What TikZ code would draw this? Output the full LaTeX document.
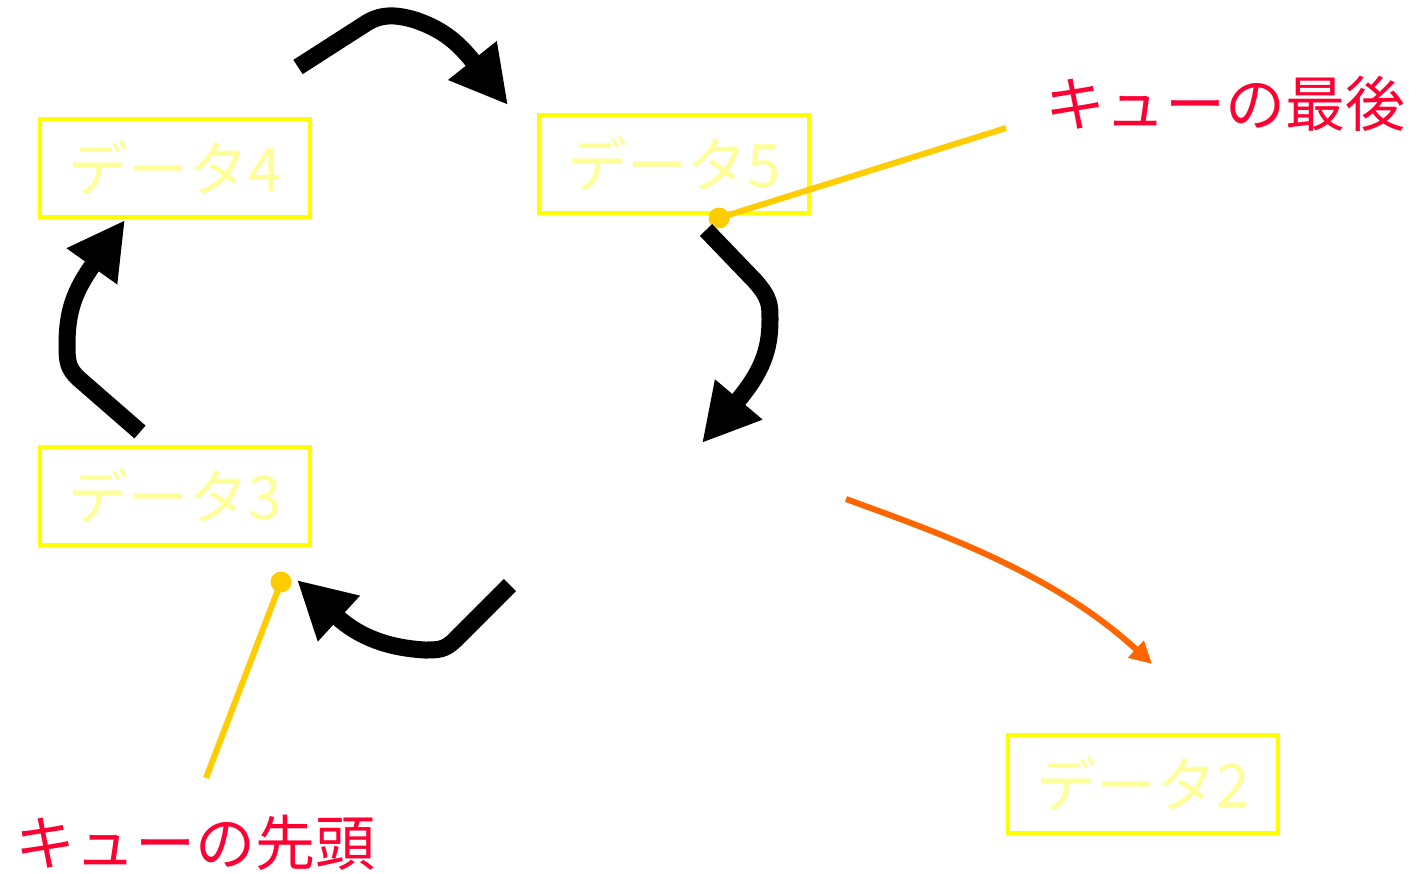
\documentclass[tikz,border=0pt]{standalone}
\usepackage{fontspec}
\newfontfamily\jpfont{Noto Sans CJK JP}
\usetikzlibrary{arrows.meta}
\definecolor{boxyellow}{HTML}{FFFF00}
\definecolor{textyellow}{HTML}{FFFF99}
\definecolor{labelred}{HTML}{FF0033}
\definecolor{pointgold}{HTML}{FFCC00}
\definecolor{moveorange}{HTML}{FF6600}

\begin{document}
\begin{tikzpicture}[x=1pt,y=-1pt,
	data/.style={draw=boxyellow,line width=4.5pt,minimum width=270pt,minimum height=98pt,inner sep=0pt,text=textyellow,font=\jpfont\fontsize{60}{60}\selectfont},
	tag/.style={text=labelred,inner sep=0pt,font=\jpfont\fontsize{60}{60}\selectfont},
	dot/.style={circle,fill=pointgold,inner sep=0pt,minimum size=21pt},
	turn/.style={line width=17pt,-{Triangle[length=57pt,width=58pt]}},
	pointer/.style={draw=pointgold,line width=6pt},
	move/.style={draw=moveorange,line width=6pt,-{Triangle[length=22pt,width=22pt]}}]

	\useasboundingbox (0,0) rectangle (1426,873);

	\node[data] (d4) at (175,168) {データ4};
	\node[data] (d5) at (674,164) {データ5};
	\node[data] (d3) at (175,496) {データ3};
	\node[data] (d2) at (1143,784) {データ2};

	\node[tag] (last) at (1225,104) {キューの最後};
	\node[tag] (head) at (195,843) {キューの先頭};

	\node[dot] (p5) at (719,218) {};
	\node[dot] (p3) at (281,582) {};
	\coordinate (lastend) at (1006,128);
	\coordinate (headend) at (206,778);

	\coordinate (t1s) at (298,67);  \coordinate (t1e) at (508,105);
	\coordinate (t2s) at (706,230); \coordinate (t2e) at (702,443);
	\coordinate (t3s) at (510,585); \coordinate (t3e) at (297,580);
	\coordinate (t4s) at (140,432); \coordinate (t4e) at (125,220);
	\coordinate (o1) at (846,499);  \coordinate (o2) at (1152,664);

\draw[pointer] (lastend) -- (p5.center);
\draw[pointer] (headend) -- (p3.center);

\draw[turn] (t1s) -- (365,24) .. controls (380,14) and (395,14) .. (415,20) .. controls (445,30) and (460,45) .. (t1e);
\draw[turn] (t2s) -- (755,281) .. controls (770,298) and (770,305) .. (770,320) .. controls (770,350) and (762,372) .. (t2e);
\draw[turn] (t3s) -- (455,640) .. controls (445,650) and (438,650) .. (425,650) .. controls (390,648) and (360,638) .. (t3e);
\draw[turn] (t4s) -- (78,378) .. controls (68,368) and (67,362) .. (67,345) .. controls (67,310) and (75,290) .. (t4e);

\draw[move] (o1) .. controls (930,530) and (1050,570) .. (o2);

\end{tikzpicture}
\end{document}
